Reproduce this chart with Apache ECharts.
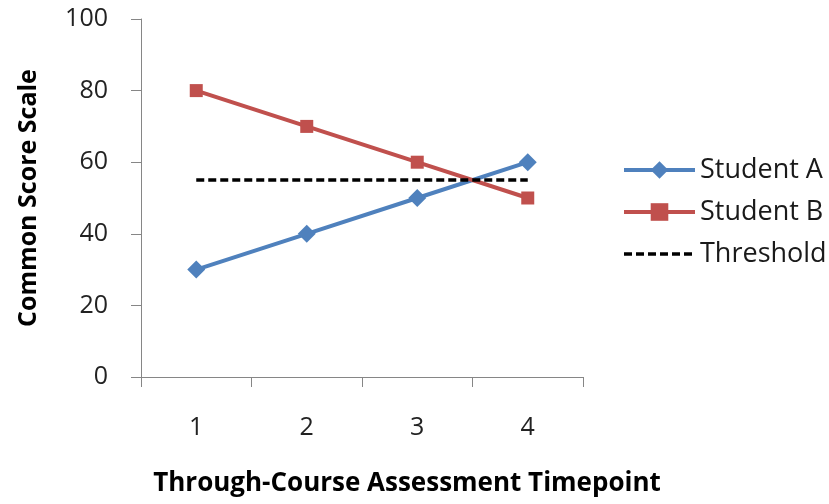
<!DOCTYPE html>
<html>
<head>
<meta charset="utf-8">
<script src="https://cdn.jsdelivr.net/npm/echarts@6/dist/echarts.min.js"></script>
<style>
html,body{margin:0;padding:0;background:#fff;}
#chart{width:829px;height:504px;}
</style>
</head>
<body>
<div id="chart"></div>
<script>
// Timepoints on the x axis
const timepoints = ['1', '2', '3', '4'];
// Scores for each student at each timepoint
const studentA = [30, 40, 50, 60];
const studentB = [80, 70, 60, 50];
// Passing threshold across all timepoints
const threshold = [55, 55, 55, 55];

const FONT = '"Open Sans", Lato, sans-serif';
const axisGray = '#868686';
const blue = '#4F81BD';
const red = '#C0504D';
const dash = [8, 4];

const chart = echarts.init(document.getElementById('chart'), null, { renderer: 'canvas' });
chart.setOption({
  animation: false,
  backgroundColor: '#ffffff',
  grid: { left: 141, right: 246, top: 19, bottom: 127 },
  legend: {
    orient: 'vertical',
    left: 617,
    top: 151,
    itemWidth: 71,
    itemHeight: 22,
    itemGap: 14,
    textStyle: { fontFamily: FONT, fontSize: 27, color: '#1a1a1a', lineHeight: 28 },
    data: [
      { name: 'Student A', lineStyle: { width: 4, color: blue } },
      { name: 'Student B', lineStyle: { width: 4, color: red } },
      { name: 'Threshold', itemStyle: { color: 'rgba(0,0,0,0)', borderWidth: 0 }, lineStyle: { width: 3.5, color: '#000', type: dash } }
    ]
  },
  xAxis: {
    type: 'category',
    data: timepoints,
    boundaryGap: true,
    name: 'Through-Course Assessment Timepoint',
    nameLocation: 'middle',
    nameGap: 94,
    nameTextStyle: { fontFamily: FONT, fontSize: 26, fontWeight: 'bold', color: '#000', padding: [0, 0, 0, 90] },
    axisLine: { lineStyle: { color: axisGray, width: 1 } },
    axisTick: { show: true, length: 10, inside: false, lineStyle: { color: axisGray } },
    axisLabel: { fontFamily: FONT, fontSize: 25, color: '#222', margin: 38 },
    splitLine: { show: false }
  },
  yAxis: {
    type: 'value',
    min: 0,
    max: 100,
    interval: 20,
    name: 'Common Score Scale',
    nameLocation: 'middle',
    nameGap: 100,
    nameRotate: 90,
    nameTextStyle: { fontFamily: FONT, fontSize: 25, fontWeight: 'bold', color: '#000' },
    axisLine: { show: true, lineStyle: { color: axisGray, width: 1 } },
    axisTick: { show: true, length: 10, lineStyle: { color: axisGray } },
    axisLabel: { fontFamily: FONT, fontSize: 25, color: '#222', margin: 33 },
    splitLine: { show: false }
  },
  series: [
    {
      name: 'Student A',
      type: 'line',
      data: studentA,
      symbol: 'diamond',
      symbolSize: 18,
      lineStyle: { color: blue, width: 4 },
      itemStyle: { color: blue }
    },
    {
      name: 'Student B',
      type: 'line',
      data: studentB,
      symbol: 'rect',
      symbolSize: 13,
      lineStyle: { color: red, width: 4 },
      itemStyle: { color: red }
    },
    {
      name: 'Threshold',
      type: 'line',
      data: threshold,
      symbol: 'none',
      lineStyle: { color: '#000000', width: 3.5, type: dash },
      itemStyle: { color: '#000000' }
    }
  ]
});
</script>
</body>
</html>
